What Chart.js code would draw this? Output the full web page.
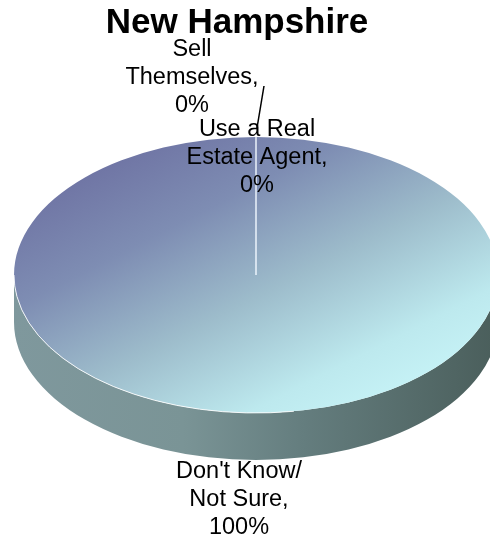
<!DOCTYPE html>
<html><head><meta charset="utf-8">
<script src="https://cdn.jsdelivr.net/npm/chart.js@4.4.0/dist/chart.umd.min.js"></script>
<style>html,body{margin:0;padding:0;background:#fff}#wrap{width:490px;height:539px}</style>
</head><body><div id="wrap"><canvas id="c"></canvas></div>
<script>
const categories = ["Sell Themselves", "Use a Real Estate Agent", "Don't Know/ Not Sure"];
const values = [0, 0, 100];
const labelLines = [["Sell", "Themselves,"], ["Use a Real", "Estate Agent,"], ["Don't Know/", "Not Sure,"]];
const titleText = "New Hampshire";

const CX = 256, CY = 275, RX = 242, RY = 138, DEPTH = 47;
const labelPos = [{x:192, y:50}, {x:257, y:130}, {x:239, y:472}];
const FONT = '"Liberation Sans", Arial, sans-serif';

function arcInfo(chart){
  const a = chart.getDatasetMeta(0).data[2];
  return {x0:a.x, y0:a.y, r0:a.outerRadius};
}
function toArc(info, sx, sy){
  return [info.x0 + (sx - CX) * info.r0 / RX, info.y0 + (sy - CY) * info.r0 / RY];
}

const pie3d = {
  id: 'pie3d',
  beforeDatasetsDraw(chart){
    const ctx = chart.ctx;
    const info = arcInfo(chart);
    // top face gradient (in arc space)
    const p1 = toArc(info, 40, 160), p2 = toArc(info, 430, 410);
    const tg = ctx.createLinearGradient(p1[0], p1[1], p2[0], p2[1]);
    tg.addColorStop(0, '#6a6c9f');
    tg.addColorStop(0.3, '#7e8db3');
    tg.addColorStop(0.55, '#9dbccb');
    tg.addColorStop(0.8, '#bde9ee');
    tg.addColorStop(1, '#caf7fa');
    chart.getDatasetMeta(0).data.forEach(el => { el.options.backgroundColor = tg; });
    // side
    ctx.save();
    const g = ctx.createLinearGradient(CX - RX, 0, CX + RX, 0);
    g.addColorStop(0, '#7f989d');
    g.addColorStop(0.35, '#7a9496');
    g.addColorStop(0.6, '#647d7e');
    g.addColorStop(1, '#4a5e5b');
    ctx.beginPath();
    ctx.ellipse(CX, CY, RX, RY, 0, 0, Math.PI, false);
    ctx.lineTo(CX - RX, CY + DEPTH);
    ctx.ellipse(CX, CY + DEPTH, RX, RY, 0, Math.PI, 0, true);
    ctx.closePath();
    ctx.fillStyle = g;
    ctx.fill();
    ctx.restore();
    ctx.save();
    ctx.translate(CX, CY);
    ctx.scale(RX / info.r0, RY / info.r0);
    ctx.translate(-info.x0, -info.y0);
  },
  afterDatasetsDraw(chart){
    const ctx = chart.ctx;
    ctx.restore();
    const meta = chart.getDatasetMeta(0);
    const ang = meta.data[0].startAngle;
    ctx.save();
    ctx.strokeStyle = 'rgba(240,248,255,0.95)';
    ctx.lineWidth = 1.5;
    ctx.beginPath();
    ctx.moveTo(CX, CY);
    ctx.lineTo(CX + RX * Math.cos(ang), CY + RY * Math.sin(ang));
    ctx.stroke();
    ctx.strokeStyle = 'rgba(255,255,255,0.85)';
    ctx.lineWidth = 1;
    ctx.beginPath();
    ctx.ellipse(CX, CY, RX, RY, 0, Math.PI * 0.45, Math.PI, false);
    ctx.stroke();
    ctx.strokeStyle = '#000';
    ctx.lineWidth = 1.5;
    ctx.beginPath();
    ctx.moveTo(264, 86);
    ctx.lineTo(257, 128);
    ctx.stroke();
    ctx.fillStyle = '#000';
    ctx.font = '23.5px ' + FONT;
    ctx.textAlign = 'center';
    ctx.textBaseline = 'middle';
    for (let i = 0; i < categories.length; i++) {
      const lines = labelLines[i].concat([values[i] + '%']);
      lines.forEach((t, j) => ctx.fillText(t, labelPos[i].x, labelPos[i].y + j * 28));
    }
    ctx.restore();
  }
};

new Chart(document.getElementById('c'), {
  type: 'pie',
  data: {
    labels: categories,
    datasets: [{
      data: values,
      borderWidth: 0,
      backgroundColor: '#9bb8c9'
    }]
  },
  options: {
    responsive: true,
    maintainAspectRatio: false,
    animation: false,
    devicePixelRatio: 1,
    layout: {padding: {left: 0, right: 16, top: 0, bottom: 60}},
    plugins: {
      legend: {display: false},
      tooltip: {enabled: false},
      title: {
        display: true,
        text: titleText,
        color: '#000',
        font: {size: 35, weight: 'bold', family: FONT},
        padding: {top: 2, bottom: 10}
      }
    }
  },
  plugins: [pie3d]
});
</script>
</body></html>
